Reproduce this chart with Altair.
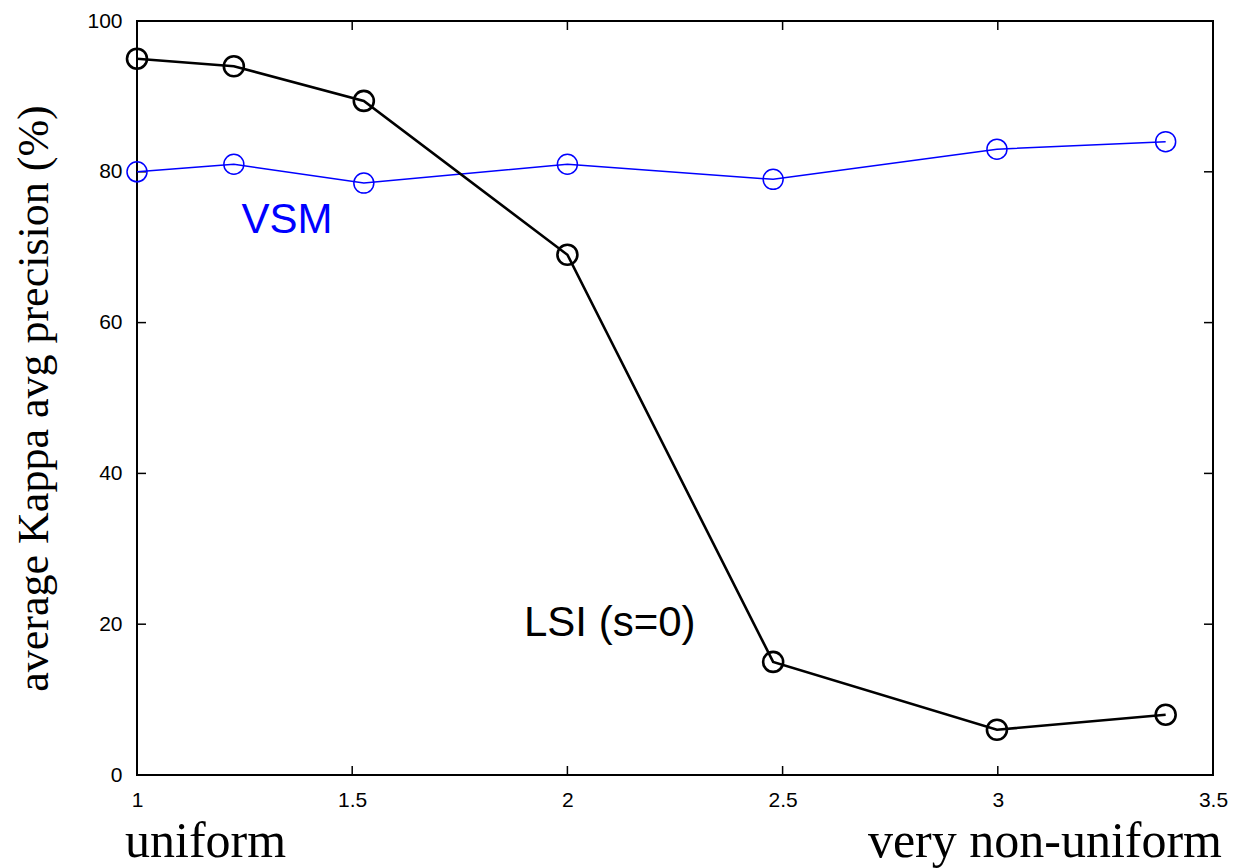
import altair as alt
import pandas as pd

# Zipf-like skew of the term distribution (x) and average precision (y, %)
skew = [1.0, 1.225, 1.527, 2.0, 2.478, 2.998, 3.39]
lsi_precision = [95, 94, 89.4, 69, 15, 6, 8]
vsm_precision = [80, 81, 78.5, 81, 79, 83, 84]

x_ticks = [1, 1.5, 2, 2.5, 3, 3.5]
y_ticks = [0, 20, 40, 60, 80, 100]

W, H = 1076, 754
TICK = 9

lsi = pd.DataFrame({"skew": skew, "precision": lsi_precision})
vsm = pd.DataFrame({"skew": skew, "precision": vsm_precision})
xt = pd.DataFrame({"v": x_ticks})
yt = pd.DataFrame({"v": y_ticks})

x_scale = alt.Scale(domain=[1, 3.5], nice=False, zero=False)
y_scale = alt.Scale(domain=[0, 100], nice=False)

x_axis = alt.Axis(values=x_ticks, ticks=False, domain=False, grid=False,
                  labelFont="Liberation Sans", labelFontSize=21, labelColor="black",
                  labelPadding=14, labelFlush=False, title=None,
                  labelExpr="datum.value")
y_axis = alt.Axis(values=y_ticks, ticks=False, domain=False, grid=False,
                  labelFont="Liberation Sans", labelFontSize=21, labelColor="black",
                  labelPadding=15, labelFlush=False,
                  title="average Kappa avg precision (%)",
                  titleFont="Liberation Serif", titleFontSize=44,
                  titleFontWeight="normal", titleColor="black", titlePadding=30)

X = alt.X("skew:Q", scale=x_scale, axis=x_axis)
Y = alt.Y("precision:Q", scale=y_scale, axis=y_axis)


def series(df, color, width):
    line = alt.Chart(df).mark_line(color=color, strokeWidth=width).encode(x=X, y=Y)
    pts = alt.Chart(df).mark_point(shape="circle", size=400, filled=False,
                                   color=color, strokeWidth=width, opacity=1).encode(x=X, y=Y)
    return line + pts


# inward ticks on all four sides
xs = alt.Scale(domain=[1, 3.5], nice=False, zero=False)
ys = alt.Scale(domain=[0, 100], nice=False)
tick_b = alt.Chart(xt).mark_rule(color="black", strokeWidth=1.5).encode(
    x=alt.X("v:Q", scale=xs), y=alt.value(H), y2=alt.value(H - TICK))
tick_t = alt.Chart(xt).mark_rule(color="black", strokeWidth=1.5).encode(
    x=alt.X("v:Q", scale=xs), y=alt.value(0), y2=alt.value(TICK))
tick_l = alt.Chart(yt).mark_rule(color="black", strokeWidth=1.5).encode(
    y=alt.Y("v:Q", scale=ys), x=alt.value(0), x2=alt.value(TICK))
tick_r = alt.Chart(yt).mark_rule(color="black", strokeWidth=1.5).encode(
    y=alt.Y("v:Q", scale=ys), x=alt.value(W), x2=alt.value(W - TICK))

# series labels
vsm_label = alt.Chart(pd.DataFrame({"x": [1.3485], "y": [71.9], "t": ["VSM"]})).mark_text(
    font="Liberation Sans", fontSize=42, color="#0000ff", align="center", baseline="alphabetic"
).encode(x=alt.X("x:Q", scale=xs), y=alt.Y("y:Q", scale=ys), text="t:N")
lsi_label = alt.Chart(pd.DataFrame({"x": [1.899], "y": [18.4], "t": ["LSI (s=0)"]})).mark_text(
    font="Liberation Sans", fontSize=42, color="black", align="left", baseline="alphabetic"
).encode(x=alt.X("x:Q", scale=xs), y=alt.Y("y:Q", scale=ys), text="t:N")

# end captions under the x axis
cap_left = alt.Chart(pd.DataFrame({"t": ["uniform"]})).mark_text(
    font="Liberation Serif", fontSize=50, color="black", align="left", baseline="alphabetic"
).encode(x=alt.value(-12), y=alt.value(H + 82), text="t:N")
cap_right = alt.Chart(pd.DataFrame({"t": ["very non-uniform"]})).mark_text(
    font="Liberation Serif", fontSize=50, color="black", align="right", baseline="alphabetic"
).encode(x=alt.value(W + 9), y=alt.value(H + 82), text="t:N")

chart = alt.layer(
    tick_b, tick_t, tick_l, tick_r,
    series(vsm, "#0000ff", 1.5),
    series(lsi, "black", 2.6),
    vsm_label, lsi_label, cap_left, cap_right,
).properties(
    width=W, height=H,
    autosize=alt.AutoSizeParams(type="none"),
    padding={"left": 137, "top": 21, "right": 25, "bottom": 93},
    background="white",
).configure_view(stroke="black", strokeWidth=2)

chart.save("out.html", embed_options={"renderer": "svg", "actions": False})
